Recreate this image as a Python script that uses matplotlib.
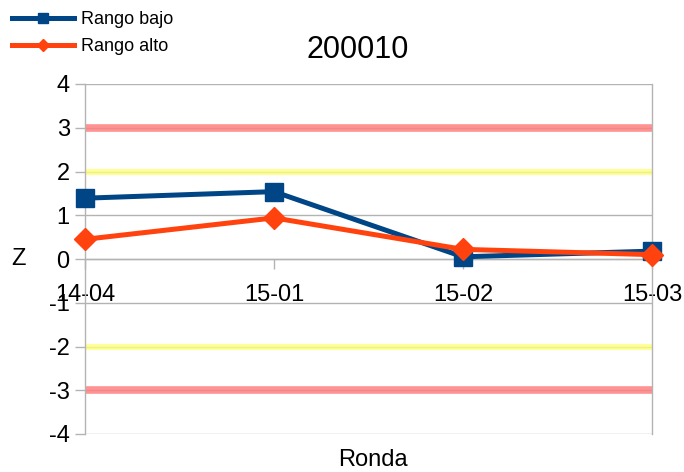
import matplotlib
matplotlib.use("Agg")
import matplotlib.pyplot as plt

plt.rcParams['font.family'] = ['Liberation Sans', 'DejaVu Sans']

categories = ["14-04", "15-01", "15-02", "15-03"]
rango_bajo = [1.39, 1.54, 0.05, 0.18]
rango_alto = [0.45, 0.94, 0.22, 0.10]
limit_red = [3, -3]
limit_yellow = [2, -2]
yticks = [-4, -3, -2, -1, 0, 1, 2, 3, 4]

fig = plt.figure(figsize=(6.84, 4.72), dpi=100)
ax = fig.add_axes([85/684, 1-434/472, (652-85)/684, (434-84)/472])

x = list(range(len(categories)))
ax.set_xlim(0, len(categories) - 1)
ax.set_ylim(-4, 4)

for yv in yticks:
    ax.axhline(yv, color='#b3b3b3', lw=1.0, zorder=1)
for yv in limit_red:
    ax.axhline(yv, color='#ff8080', lw=5.5, alpha=0.85, zorder=2)
for yv in limit_yellow:
    ax.axhline(yv, color='#ffff80', lw=4.5, alpha=0.8, zorder=2)

ax.plot(x, rango_bajo, color='#004586', lw=3.6, marker='s', markersize=13,
        label='Rango bajo', zorder=4, clip_on=False)
ax.plot(x, rango_alto, color='#ff420e', lw=3.6, marker='D', markersize=11,
        label='Rango alto', zorder=5, clip_on=False)

ax.spines['top'].set_visible(False)
ax.spines['bottom'].set_position(('data', 0))
for s in ['left', 'right', 'bottom']:
    ax.spines[s].set_color('#b3b3b3')
    ax.spines[s].set_linewidth(1.0)

ax.set_xticks(x)
ax.set_xticklabels(categories, fontsize=17)
ax.set_yticks(yticks)
ax.set_yticklabels([str(v) for v in yticks], fontsize=17)
ax.tick_params(axis='both', colors='#b3b3b3', labelcolor='black', length=7, width=1.0)
ax.tick_params(axis='x', pad=11)
ax.tick_params(axis='y', pad=4)

fig.text(358/684, 1-50/472, '200010', fontsize=22, ha='center', va='center')
fig.text(18/684, 1-259/472, 'Z', fontsize=17, ha='center', va='center')
fig.text(373/684, 1-460/472, 'Ronda', fontsize=17, ha='center', va='center')

fig.legend(loc='upper left', bbox_to_anchor=(0.005, 0.995), frameon=False, fontsize=13,
           handlelength=3.4, borderaxespad=0.1, labelspacing=0.55, handletextpad=0.4,
           markerscale=0.55)

fig.savefig('out.png', dpi=100)
